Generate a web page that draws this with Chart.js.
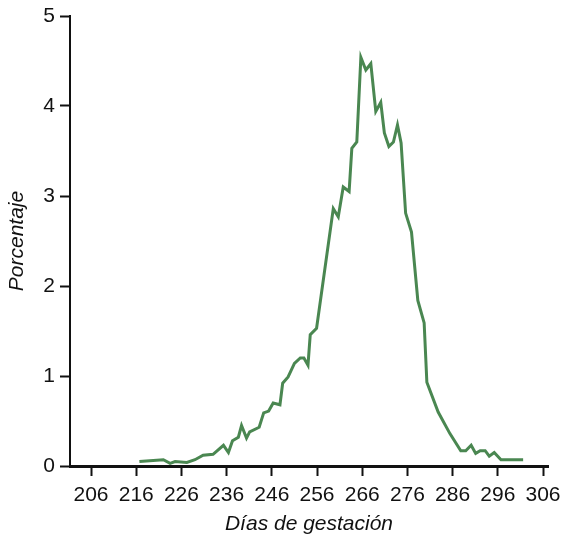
<!DOCTYPE html>
<html>
<head>
	<script type="text/javascript" src="https://cdn.jsdelivr.net/npm/chart.js@4/dist/chart.umd.min.js"></script>
	<style>
		body { margin: 0; background: #fff; }
	</style>
</head>
<body>
	<canvas id="canvas" width="564" height="539"></canvas>
	<script type="text/javascript">

	// points (day, percent)
	var dias = [216.7, 222.0, 223.5, 224.6, 227.2, 229.0, 230.8, 233.0, 235.3, 236.4,
		237.3, 238.6, 239.3, 240.4, 241.1, 243.2, 244.2, 245.3, 246.3, 247.8,
		248.4, 249.6, 251.0, 252.3, 253.1, 254.0, 254.5, 255.9, 259.6, 260.7,
		261.8, 263.1, 263.7, 264.8, 265.7, 266.8, 267.9, 269.0, 270.1, 270.9,
		271.9, 272.9, 273.8, 274.6, 275.6, 276.9, 278.3, 279.7, 280.3, 282.8,
		285.4, 287.8, 288.9, 290.1, 291.1, 292.1, 293.2, 294.1, 295.2, 296.7,
		301.6];
	var porcentaje = [0.05, 0.07, 0.03, 0.05, 0.04, 0.07, 0.12, 0.13, 0.23, 0.15,
		0.28, 0.32, 0.45, 0.31, 0.38, 0.43, 0.59, 0.61, 0.70, 0.68,
		0.92, 0.99, 1.14, 1.20, 1.20, 1.12, 1.46, 1.53, 2.86, 2.77,
		3.10, 3.05, 3.53, 3.60, 4.54, 4.40, 4.47, 3.94, 4.04, 3.70,
		3.55, 3.60, 3.79, 3.59, 2.81, 2.60, 1.84, 1.59, 0.93, 0.60,
		0.36, 0.17, 0.17, 0.23, 0.14, 0.17, 0.17, 0.11, 0.15, 0.07,
		0.07];
	var xTicks = [206, 216, 226, 236, 246, 256, 266, 276, 286, 296, 306];
	var yTicks = [0, 1, 2, 3, 4, 5];

	var puntos = [];
	for (var i = 0; i < dias.length; i++) {
		puntos.push({x: dias[i], y: porcentaje[i]});
	}

	var fuente = "'Liberation Sans', Arial, sans-serif";

	var fondo = {
		id: 'fondo',
		beforeDraw: function(chart) {
			var c = chart.ctx;
			c.save();
			c.fillStyle = '#ffffff';
			c.fillRect(0, 0, chart.width, chart.height);
			c.restore();
		}
	};

	var ctx = document.getElementById("canvas").getContext("2d");
	var chart = new Chart(ctx, {
		type: 'line',
		data: {
			datasets: [{
				data: puntos,
				borderColor: '#4a8751',
				borderWidth: 3,
				pointRadius: 0,
				tension: 0,
				fill: false
			}]
		},
		options: {
			responsive: false,
			animation: false,
			layout: { padding: { top: 16, right: 16, bottom: 0, left: 0 } },
			plugins: {
				legend: { display: false },
				tooltip: { enabled: false }
			},
			scales: {
				x: {
					type: 'linear',
					min: 201.35,
					max: 307.1,
					afterBuildTicks: function(scale) {
						scale.ticks = xTicks.map(function(v) { return {value: v}; });
					},
					afterFit: function(scale) {
						scale.height = 73;
						scale.paddingLeft = 0;
						scale.paddingRight = 0;
					},
					grid: {
						drawOnChartArea: false,
						drawTicks: true,
						tickLength: 10,
						tickColor: '#111',
						tickWidth: 2
					},
					border: { display: true, color: '#111', width: 3 },
					ticks: {
						color: '#111',
						padding: 7,
						maxRotation: 0,
						autoSkip: false,
						font: { family: fuente, size: 21 }
					},
					title: {
						display: true,
						text: 'Días de gestación',
						color: '#111',
						padding: { top: 0, bottom: 2 },
						font: { family: fuente, size: 21, style: 'italic' }
					}
				},
				y: {
					min: 0,
					max: 5,
					afterBuildTicks: function(scale) {
						scale.ticks = yTicks.map(function(v) { return {value: v}; });
					},
					afterFit: function(scale) {
						scale.width = 70;
						scale.paddingTop = 0;
						scale.paddingBottom = 0;
					},
					grid: {
						drawOnChartArea: false,
						drawTicks: true,
						tickLength: 10,
						tickColor: '#111',
						tickWidth: 2
					},
					border: { display: true, color: '#111', width: 2 },
					ticks: {
						color: '#111',
						padding: 5,
						font: { family: fuente, size: 21 }
					},
					title: {
						display: true,
						text: 'Porcentaje',
						color: '#111',
						padding: { top: 5, bottom: 0 },
						font: { family: fuente, size: 21, style: 'italic' }
					}
				}
			}
		},
		plugins: [fondo]
	});

	</script>
</body>
</html>
